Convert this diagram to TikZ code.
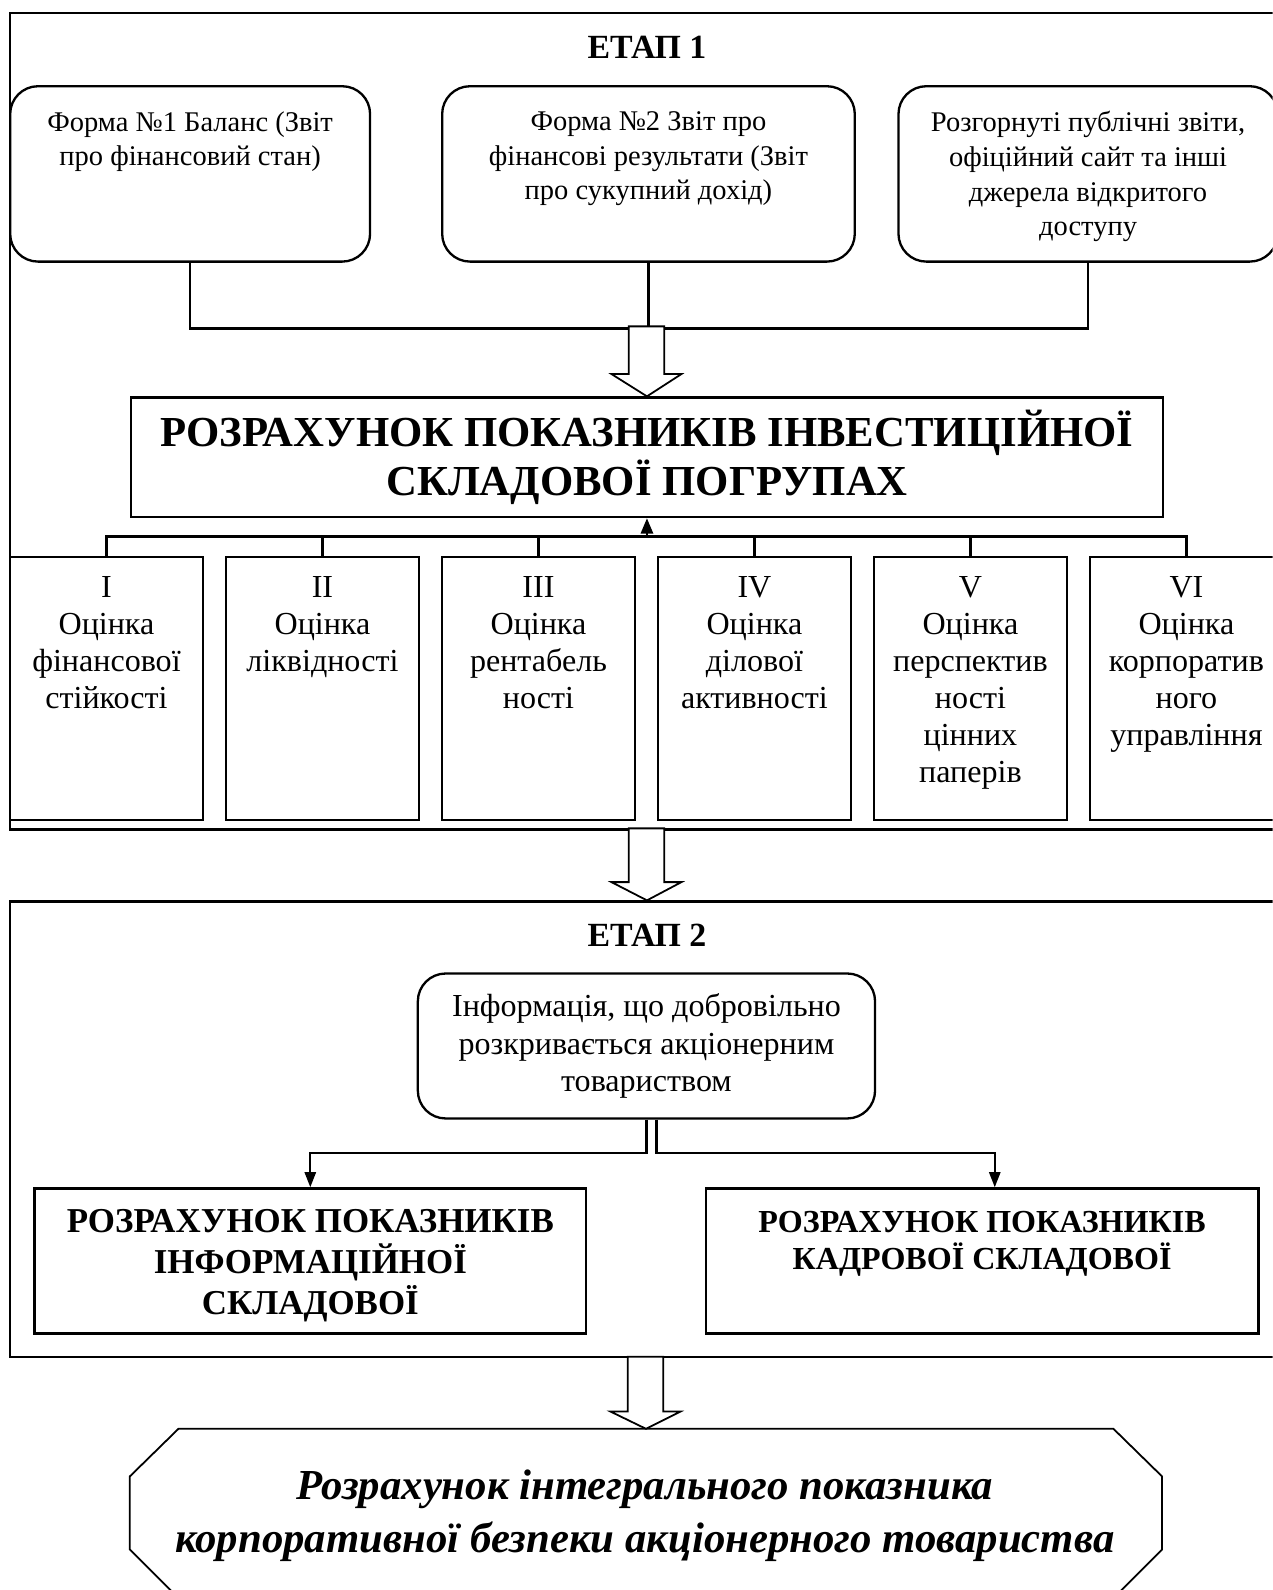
\documentclass[tikz,border=0pt]{standalone}
\usepackage{fontspec}
\setmainfont{Liberation Serif}
\usetikzlibrary{arrows.meta}

\begin{document}
\begin{tikzpicture}[x=0.02cm, y=-0.02cm, line width=1.3pt,
  stagebox/.style={draw, minimum width=25.12cm, inner sep=0pt},
  stagetitle/.style={font=\bfseries\fontsize{19}{22}\selectfont},
  srcbox/.style={draw, rounded corners=0.55cm, minimum height=3.46cm, inner sep=0pt},
  srctext/.style={anchor=north, align=center, inner sep=0pt, font=\fontsize{16}{19.4}\selectfont},
  evalbox/.style={draw, minimum width=3.8cm, minimum height=5.2cm, inner sep=0pt},
  evaltext/.style={anchor=north, align=center, inner sep=0pt, font=\fontsize{18}{20.8}\selectfont},
  calcbox/.style={draw, minimum width=10.9cm, minimum height=2.86cm, inner sep=0pt},
  calctext/.style={anchor=north, align=center, inner sep=0pt, font=\bfseries\fontsize{18}{21.3}\selectfont},
  bigarrow/.style={draw, fill=white, line width=1pt},
  downtip/.style={-{Triangle[length=0.3cm,width=0.22cm]}},
  uptip/.style={-{Triangle[length=0.3cm,width=0.24cm]}},
]
\useasboundingbox (0,0) rectangle (1255,1568);
\clip (0,0) rectangle (1255,1568);

% stage 1
\node[stagebox, minimum height=16.1cm] (stage1) at (638,415.5) {};
\node[stagetitle] (title1) at (638,47) {ЕТАП 1};

\node[srcbox, minimum width=7.1cm]  (frm1) at (187.5,171.5) {};
\node[srcbox, minimum width=8.14cm] (frm2) at (639.5,171.5) {};
\node[srcbox, minimum width=7.48cm] (frm3) at (1073,171.5) {};
\node[srctext] (frm1t) at ([yshift=-0.5cm]frm1.north) {Форма №1 Баланс (Звіт\\про фінансовий стан)};
\node[srctext] (frm2t) at ([yshift=-0.5cm]frm2.north) {Форма №2 Звіт про\\фінансові результати (Звіт\\про сукупний дохід)};
\node[srctext] (frm3t) at ([yshift=-0.5cm]frm3.north) {Розгорнуті публічні звіти,\\офіційний сайт та інші\\джерела відкритого\\доступу};

\node[draw, minimum width=20.36cm, minimum height=2.36cm, align=center,
      font=\bfseries\fontsize{24}{27.5}\selectfont] (main) at (638,451)
      {РОЗРАХУНОК ПОКАЗНИКІВ ІНВЕСТИЦІЙНОЇ\\СКЛАДОВОЇ ПОГРУПАХ};

\coordinate (join) at (638,324);
\draw (frm1.south) |- (join) -| (frm3.south);
\draw (frm2.south) -- (frm2.south |- join);
\draw[bigarrow] (main.north) -- ++(-35,-22) -- ++(17,0) -- ++(0,-47) -- ++(35,0) -- ++(0,47) -- ++(17,0) -- cycle;

% groups of indicators
\foreach \n/\txt [count=\i from 0] in {
  ev1/{I\\Оцінка\\фінансової\\стійкості},
  ev2/{II\\Оцінка\\ліквідності},
  ev3/{III\\Оцінка\\рентабель\\ності},
  ev4/{IV\\Оцінка\\ділової\\активності},
  ev5/{V\\Оцінка\\перспектив\\ності\\цінних\\паперів},
  ev6/{VI\\Оцінка\\корпоратив\\ного\\управління}}
{
  \node[evalbox] (\n) at ({105+213*\i},679) {};
  \node[evaltext] (\n t) at ([yshift=-0.39cm]\n.north) {\txt};
}
\coordinate (bus) at (638,529);
\draw (ev1.north) |- (bus) -| (ev6.north);
\foreach \n in {ev2,ev3,ev4,ev5}
  \draw (\n.north) -- (\n.north |- bus);
\draw[uptip] (bus) -- (main.south);

% stage 2
\node[stagebox, minimum height=8.98cm] (stage2) at (638,1113.5) {};
\draw[bigarrow] (stage2.north) -- ++(-35,-18) -- ++(17,0) -- ++(0,-53) -- ++(35,0) -- ++(0,53) -- ++(17,0) -- cycle;
\node[stagetitle] (title2) at (638,922) {ЕТАП 2};

\node[draw, rounded corners=0.55cm, minimum width=9.02cm, minimum height=2.86cm, align=center,
      font=\fontsize{18}{21}\selectfont] (info) at (637.5,1031.5)
      {Інформація, що добровільно\\розкривається акціонерним\\товариством};

\node[calcbox, minimum width=10.88cm] (infocalc) at (306,1243.5) {};
\node[calcbox] (staffcalc) at (968.5,1243.5) {};
\node[calctext, font=\bfseries\fontsize{19.6}{22.8}\selectfont] (infocalct) at ([yshift=-0.42cm]infocalc.north) {РОЗРАХУНОК ПОКАЗНИКІВ\\ІНФОРМАЦІЙНОЇ\\СКЛАДОВОЇ};
\node[calctext] (staffcalct) at ([yshift=-0.44cm]staffcalc.north) {РОЗРАХУНОК ПОКАЗНИКІВ\\КАДРОВОЇ СКЛАДОВОЇ};

\draw[downtip] (info.south) -- ++(0,33) -| (infocalc.north);
\draw[downtip] ([xshift=0.2cm]info.south) -- ++(0,33) -| ([xshift=0.25cm]staffcalc.north);

% result
\coordinate (res) at (637,1409);
\draw[line width=1pt] (176,1409) -- (1098,1409) -- (1146,1456) -- (1146,1528) -- (1099,1575)
  -- (175,1575) -- (128,1528) -- (128,1456) -- cycle;
\node[align=center, font=\bfseries\itshape\fontsize{24}{29.6}\selectfont] (restext) at (636,1495)
  {Розрахунок інтегрального показника\\корпоративної безпеки акціонерного товариства};
\draw[bigarrow] (res) -- ++(-35,-17) -- ++(17,0) -- ++(0,-54) -- ++(35,0) -- ++(0,54) -- ++(17,0) -- cycle;
\end{tikzpicture}
\end{document}
